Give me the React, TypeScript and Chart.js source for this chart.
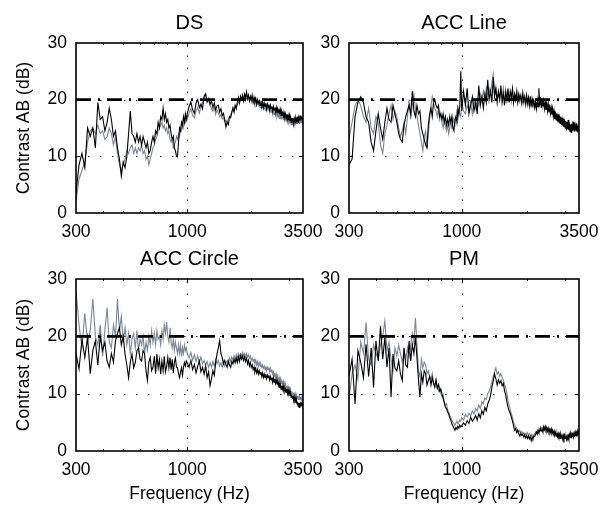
import React, { useEffect, useRef } from "react";
import { Chart, registerables } from "chart.js";

Chart.register(...registerables);

const FREQ = [
300,310,320,330,340,350,360,370,380,390,
400,410,420,430,440,450,460,470,480,490,
500,510,520,530,540,550,560,570,580,590,
600,610,620,630,640,650,660,670,680,690,
700,710,720,730,740,750,760,770,780,790,
800,810,820,830,840,850,860,870,880,890,
900,910,920,930,940,950,960,970,980,990,
1000,1020,1040,1060,1080,1100,1120,1140,1160,1180,
1200,1220,1240,1260,1280,1300,1320,1340,1360,1380,
1400,1420,1440,1460,1480,1500,1520,1540,1560,1580,
1600,1620,1640,1660,1680,1700,1720,1740,1760,1780,
1800,1820,1840,1860,1880,1900,1920,1940,1960,1980,
2000,2020,2040,2060,2080,2100,2120,2140,2160,2180,
2200,2220,2240,2260,2280,2300,2320,2340,2360,2380,
2400,2420,2440,2460,2480,2500,2520,2540,2560,2580,
2600,2620,2640,2660,2680,2700,2720,2740,2760,2780,
2800,2820,2840,2860,2880,2900,2920,2940,2960,2980,
3000,3020,3040,3060,3080,3100,3120,3140,3160,3180,
3200,3220,3240,3260,3280,3300,3320,3340,3360,3380,
3400,3420,3440,3460,3480,3500];

const X_TICKS = [300, 1000, 3500];
const X_MINOR = [400, 500, 600, 700, 800, 900, 2000, 3000];
const Y_TICKS = [0, 10, 20, 30];
const THRESHOLD = 20;
const TITLES = ["DS", "ACC Line", "ACC Circle", "PM"];
const X_LABEL = "Frequency (Hz)";
const Y_LABEL = "Contrast AB (dB)";

const DS_BLACK = [
3.5,8.5,10.5,8,15,13.5,15,11.5,19.5,16.5,
17,14.5,16,18.5,16.5,13.5,14.5,11.5,9.5,6.5,
9,8,10,14,18,14,13.5,12.5,14,12.5,
13.5,12,13.5,12.5,11.5,12.5,10.5,11,12.5,13.5,
12.5,14.5,14,16,15,17,16.5,18.5,16.5,17.5,
16,16.5,15,15.5,14,13,13.5,11.5,11,10,
9.9,12.5,15,14.5,16,15.5,17,16,17.5,16.5,
17.5,18.8,19.6,18.2,17.6,19.4,20,18.6,19.2,18.4,
20.6,21,19.6,20.2,19.2,19.8,18.6,19.4,18.2,18.9,
19,17.8,18.4,17.2,17.6,16.4,15.2,16,15.6,17,
16.8,17.8,18.6,17.8,19,18.4,19.6,20.4,19.4,20.6,
20,20.8,19.8,21,20.4,21.4,20.2,20.8,19.8,20.6,
20,20.8,19.6,20.4,19.6,20.2,19.2,20,19.4,19.8,
19,19.8,18.8,19.6,18.6,19.4,18.8,19.4,18.4,19.2,
18.6,19.2,18.2,19,18.4,18.8,18,18.8,18.2,18.6,
17.8,18.6,17.6,18.4,17.8,18.2,17.4,18.2,17.2,17.9,
17.4,17.8,16.8,17.6,17,17.5,16.6,17.4,16.6,17.2,
16.4,17.2,16.2,16.9,16,16.8,16.2,16.7,15.8,16.6,
16,16.8,15.8,16.6,16.2,17,16,16.8,16.4,17.2,
16.4,17.2,16.6,17,16.4,16.8];
const DS_GRAY = [
2,6,7.5,9,12.5,14.5,15,14,15.5,14,
14.5,13,13.5,15,14,12,13.5,10.5,8.5,7.5,
8.5,9.5,11,10.5,11.5,12,10.5,11.5,10.5,11.5,
11,12,10.5,11,9.5,10,8.5,9.5,10.5,11.5,
12,13,13.5,14.5,15,15.5,16,15,15.5,14.5,
15,14,14.5,13,12.5,13,11.5,12,12.5,13.5,
13,14,13.5,15,14.5,15.5,15,16.5,16,17,
16.5,17.6,18.4,17.2,16.8,18,18.6,17.6,18.8,19.6,
20.4,21,19.6,20,19,18.4,18,18.6,17.4,18.2,
17.6,17,17.4,16.6,16.8,16.2,16.4,16,16.6,17,
17.4,17.8,18.2,18,18.8,18.6,19.2,19.6,19.4,20,
20.2,20.6,20,20.4,19.8,20.6,20,20.4,19.8,20.2,
19.6,20.2,19.4,19.8,19.2,19.8,19,19.6,19,19.4,
18.6,19.2,18.4,19,18.4,18.8,18.2,18.8,18,18.6,
18.2,18.6,17.8,18.4,17.8,18.2,17.4,18,17.4,17.8,
17.2,17.8,17,17.6,17,17.4,16.6,17.2,16.6,17,
16.8,17.2,16.4,17,16.4,16.8,16.2,16.7,16,16.6,
16,16.4,15.8,16.4,15.6,16.2,15.6,16.1,15.4,16,
15.6,16.2,15.6,16.4,15.8,16.6,16,16.6,15.8,16.4,
16,16.6,16,16.4,15.8,16.2];
const ACCL_BLACK = [
8.5,9.5,17,19.5,20.5,19.5,17,16,12.5,11,
14.5,17.5,15,13,16,18.5,16.5,16,19,17.5,
16,14,13,12.5,15.5,17,18,19,17.5,21.5,
18,17,19,17.5,18,15,14,13,12,11.5,
15.5,17.5,18.5,17,19.5,20,19,18.5,19,17,
17.5,16.5,17.5,16,17,15.5,16.5,15.5,17,16,
17,15,14.5,16.5,17,16,18.5,17.5,19,25,
18,21.5,19,22,17.5,19,20.5,18,19.5,17.5,
22.5,19,20.5,18.5,21,19.5,23.5,20,21.5,19.5,
24,20.5,22,19.5,21.5,20,22.5,19.5,21,19,
21.5,20,22,19.5,21.5,20.5,22,19.5,21,20,
21.5,19.5,21,20,20.8,19.4,21.2,19.8,20.6,19.2,
20.8,19.4,20.4,19,20.6,18.8,20.2,19.2,19.8,18.6,
19.6,18.4,20,18.8,22,19,20.4,18.6,19.8,18.8,
19.8,18.4,19.6,18.2,19.4,18,19.2,17.8,19,17.6,
18.6,17.4,18.4,17,18,16.6,17.8,16.4,17.6,16.2,
17.4,16,17.2,15.8,17,15.6,16.8,15.4,16.6,15.2,
16.4,15,16.2,14.6,16,14.8,16.4,14.6,15.8,14.4,
15.6,14.2,15.8,14.6,16.2,14.8,16,14.4,15.6,14.6,
15.8,14.4,15.4,14.2,15,14.6];
const ACCL_GRAY = [
13,16,19,20,19,17,16,18.5,15,14,
17,16,12,10.5,14,15.5,17.5,19,16.5,18,
17,15,13.5,14.5,16,14,17,20,16.5,19,
21,18.5,17,15.5,14,12.5,11,13.5,14.5,11.5,
14,16.5,19,20.5,19.5,18.5,18,17,18.5,16.5,
17.5,16,15,16.5,15.5,14.5,15.5,14,15,16,
15,17,16,15.5,17,18,16.5,18,17.5,17,
19.5,18,17.5,19,18,19.5,17.5,20,18.5,20,
19,21,20,21.5,20,22,20.5,22,21,23,
24.5,21.5,22,20.5,21,20,21.5,20.5,22,20,
21,19.8,21.2,20,21,19.6,20.8,20,21,19.8,
20.6,19.6,20.8,19.6,20.4,19.4,20.2,19.2,20,19.4,
20.2,19,20,18.8,19.8,18.8,19.6,18.6,19.4,18.6,
19.4,18.4,19.2,18.6,20.4,19.2,20,19,19.6,18.8,
19.4,18.6,19.2,18.2,19,18,18.8,17.8,18.6,17.6,
18.4,17.4,18.2,17.2,17.8,16.8,17.6,16.6,17.4,16.4,
17.2,16.2,17,16,16.8,15.8,16.6,15.6,16.4,15.4,
16.2,15.2,16,15,15.8,14.8,15.8,14.8,15.6,14.6,
15.6,14.6,15.4,14.6,15.6,14.4,15.4,14.6,15.4,14.4,
15.4,14.6,15.2,14.4,15,14.6];
const ACCC_BLACK = [
17,14.3,19.5,16.3,19.8,13.5,17.5,19.2,15,20,
17.5,19,15.7,14.6,17,15.5,19.2,20.5,21.5,18.5,
20,16.9,15,12.8,15.5,16.9,14.5,15.4,17.5,18,
16,15.7,17.5,17,14,12.3,15.5,16.3,14,14.6,
16.5,13.5,16.9,14.5,16,13.4,15.7,14,16.5,13.8,
14.7,16.3,14.5,16.3,14.2,16,13.6,15.5,16.2,14.6,
14.5,13.5,12.8,13.8,14.5,13.2,14.6,15.4,14.8,15.7,
15.4,14.6,15.8,14.2,15.1,13.6,14.8,15.7,13.8,14.6,
13.4,14.8,12.8,13.8,11.4,12.6,14,13.2,15.4,16.9,
18,19.2,17,16.3,15.2,15.8,15.1,14.6,15.7,15,
14.6,15.6,15.2,16,15.4,16.2,15.4,16.4,15.6,16.6,
16,16.6,15.8,16.4,15.6,16.2,15.2,15.8,14.8,15.4,
14.6,15,14.2,14.6,13.8,14.4,13.6,14.2,13.4,14,
13.4,13.8,13,13.6,12.8,13.4,12.8,13.4,12.6,13.2,
12.8,13.2,12.4,13,12.4,12.8,12,12.8,12,12.6,
11.8,12.4,11.6,12.2,11.4,11.9,11,11.6,10.8,11.4,
10.8,11.4,10.6,11,10.4,10.8,10.2,10.8,10,10.6,
10,10.4,9.6,10.2,9.4,9.8,9.2,9.6,8.8,9.4,
8.8,9.2,8.4,9,8.2,8.6,7.8,8.4,7.6,8.4,
7.8,8.6,8,8.4,7.8,8.4];
const ACCC_GRAY = [
28,22,18,24,19,21,26.5,20,18.5,22,
16.5,21,25,19,18,22,20,26.5,21,23.5,
19,21.5,18.5,20.5,17,19.5,20.5,18,21,17.5,
19.5,18.5,20,17,19,17.5,20,18.5,21,19,
20.5,18.5,21,19.5,20,18.5,21,19.5,22,20.5,
22.5,20,19,21.5,19,18,19.5,17.5,19,18,
17,18.5,17,18.5,16.5,18,17,18.5,17.5,18,
17,16.2,17.2,15.8,16.8,15.6,16.6,15.4,16.4,15.2,
15.8,15,15.6,14.6,15.4,14.6,15.6,14.8,16,15.2,
15.8,14.8,15.4,14.6,15.6,14.8,15.4,15.8,15.2,16.2,
15.6,16.4,15.8,16.6,16,16.8,16.2,17,16.4,17,
16.6,17.2,16.6,17,16.4,17,16.4,16.8,16.2,16.6,
15.8,16.2,15.6,16,15.2,15.8,15,15.6,14.8,15.4,
14.8,15.2,14.6,15,14.4,14.8,14.2,14.8,14,14.6,
14.2,14.6,13.8,14.4,13.8,14.2,13.4,13.8,13,13.6,
12.8,13.4,12.6,13,12.2,12.8,12,12.6,11.8,12.2,
11.8,12.2,11.4,11.8,11,11.6,10.8,11.4,10.6,11.2,
10.6,11,10.2,10.8,10,10.4,9.8,10.2,9.6,10,
9.6,10,9.4,9.8,9.2,9.6,9,9.6,9,9.4,
9,9.4,8.8,9.4,9,9.2];
const PM_BLACK = [
13,16,8.2,17.5,15.5,12.8,18.6,13,18,11.1,
19.2,15.7,21.8,16,19.8,14.6,18,9.4,16.9,14.5,
14,15.7,13.4,12.3,18,15,14.6,19.2,15.7,18.6,
17,19.8,16.3,12.5,9.4,13.4,12,14,13.5,11.5,
12.3,13,11.5,12.8,11.8,11.1,12.4,11,11.6,10.4,
10.8,9.9,9.2,8.4,7.6,7.4,6.8,6.5,5.8,5.4,
4.7,4.4,4,3.6,4.1,3.8,4.3,4,4.5,4.2,
4.4,4.9,4.5,5.3,4.8,5.9,5.2,5.6,6.2,5.4,
6.5,5.8,7,6.4,7.6,7,8.2,8.8,9.6,11.1,
12.2,13.4,12.6,11.5,12.4,11.8,12.3,11.4,11.8,10.5,
9.8,8.6,7.6,7,6.5,5.9,5.2,4.4,3.6,3.9,
3.2,3.6,3,2.6,3.1,2.7,2.9,2.4,2.8,2.3,
2.7,2.2,2.6,2.1,2.5,1.8,2.4,2.1,2.6,2.5,
2.9,3.3,2.9,3.6,3.2,3.4,3.9,3.5,3.7,3.3,
4.1,3.7,4.2,3.6,4,3.4,3.9,3.3,3.7,3.2,
3.8,3.1,3.5,2.9,3.4,2.8,3.2,2.6,3.1,2.5,
3,2.5,2.9,2.2,2.8,2.3,2.6,2.1,2.7,2.2,
2.7,2.2,2.6,2,2.5,1.9,2.6,2.1,2.8,2.4,
2.8,2.3,3.2,2.6,3.1,2.4,3,2.5,3.2,2.6,
3.1,2.6,3.4,2.8,3.3,2.9];
const PM_GRAY = [
9,13.5,15,12.5,19,17,22.4,16,15,18.5,
17,16,18.5,20,22.7,17.5,19,16,14,18,
16.5,18.5,17,15.5,17.5,16,18,16.5,18.5,20.5,
19,23.2,18.5,14,13,16,14.5,15.5,15,13.5,
14,13,12.5,13.5,12,11.5,12.4,11,10.5,11.2,
10,9.5,9.8,8.6,8,8.3,7.2,6.8,6.2,5.8,
5.4,5,4.8,4.5,4.9,5.2,4.7,5,5.4,5.2,
5.8,5.4,6.4,5.9,6.6,6.1,7,6.5,7.4,7,
8,7.4,8.6,8.2,9.2,9,10,10.4,11.2,12,
13,13.8,14.5,13.4,13.8,13,13.5,12.8,12.4,11.6,
11,10,8.8,8,7.2,6.5,5.8,5,4.6,4.2,
4,3.6,3.3,3.6,3.2,3.4,3,3.2,2.8,3.1,
2.9,3.2,2.7,3,2.6,2.9,2.5,2.8,2.7,3,
3.3,3.1,3.6,3.4,3.9,3.7,4.2,3.9,4.1,3.8,
4.4,4,4.4,3.9,4.2,3.7,4.1,3.6,3.9,3.5,
3.9,3.4,3.7,3.2,3.6,3.1,3.4,3,3.3,2.8,
3.2,2.8,3.1,2.6,3,2.6,2.9,2.5,2.8,2.4,
2.9,2.5,2.8,2.4,2.7,2.3,2.8,2.5,3,2.6,
3.1,2.7,3.3,2.8,3.2,2.7,3.2,2.8,3.3,2.8,
3.3,2.9,3.2,2.9,3.1,2.9];

const W = 608;
const H = 506;
const GRAY = "#7b8794";
const FONT = '"Liberation Sans", Arial, Helvetica, sans-serif';

type Panel = {
  title: string;
  black: number[];
  gray: number[];
  rect: [number, number, number, number];
  yLabel: boolean;
  xLabel: boolean;
};

const PANELS: Panel[] = [
  { title: TITLES[0], black: DS_BLACK, gray: DS_GRAY, rect: [76, 43, 303, 213], yLabel: true, xLabel: false },
  { title: TITLES[1], black: ACCL_BLACK, gray: ACCL_GRAY, rect: [349, 43, 579, 213], yLabel: false, xLabel: false },
  { title: TITLES[2], black: ACCC_BLACK, gray: ACCC_GRAY, rect: [76, 279, 303, 451], yLabel: true, xLabel: true },
  { title: TITLES[3], black: PM_BLACK, gray: PM_GRAY, rect: [349, 279, 579, 451], yLabel: false, xLabel: true },
];

function makePlugin(p: Panel) {
  return {
    id: "matlabFrame",
    beforeDatasetsDraw(chart: any) {
      const { ctx, chartArea, scales } = chart;
      const { left, top, right, bottom } = chartArea;
      const x = scales.x;
      const y = scales.y;
      ctx.save();
      ctx.strokeStyle = "#222";
      ctx.lineWidth = 1.2;
      ctx.setLineDash([1.5, 10.5]);
      for (const v of X_TICKS.slice(1, -1)) {
        const px = Math.round(x.getPixelForValue(v)) + 0.5;
        ctx.beginPath();
        ctx.moveTo(px, bottom);
        ctx.lineTo(px, top);
        ctx.stroke();
      }
      for (const v of Y_TICKS.slice(1, -1)) {
        const py = Math.round(y.getPixelForValue(v)) + 0.5;
        ctx.beginPath();
        ctx.moveTo(left, py);
        ctx.lineTo(right, py);
        ctx.stroke();
      }
      ctx.restore();
    },
    afterDraw(chart: any) {
      const { ctx, chartArea, scales } = chart;
      const { left, top, right, bottom } = chartArea;
      const x = scales.x;
      const y = scales.y;
      ctx.save();
      ctx.setLineDash([]);
      ctx.strokeStyle = "#000";
      ctx.lineWidth = 1;
      for (const v of X_TICKS.slice(1, -1)) {
        const px = Math.round(x.getPixelForValue(v)) + 0.5;
        ctx.beginPath();
        ctx.moveTo(px, bottom); ctx.lineTo(px, bottom - 4);
        ctx.moveTo(px, top); ctx.lineTo(px, top + 4);
        ctx.stroke();
      }
      for (const v of X_MINOR) {
        const px = Math.round(x.getPixelForValue(v)) + 0.5;
        ctx.beginPath();
        ctx.moveTo(px, bottom); ctx.lineTo(px, bottom - 2);
        ctx.moveTo(px, top); ctx.lineTo(px, top + 2);
        ctx.stroke();
      }
      for (const v of Y_TICKS.slice(1, -1)) {
        const py = Math.round(y.getPixelForValue(v)) + 0.5;
        ctx.beginPath();
        ctx.moveTo(left, py); ctx.lineTo(left + 4, py);
        ctx.moveTo(right, py); ctx.lineTo(right - 4, py);
        ctx.stroke();
      }
      ctx.lineWidth = 1.6;
      ctx.strokeRect(left, top, right - left, bottom - top);
      ctx.fillStyle = "#000";
      ctx.font = `17.5px ${FONT}`;
      ctx.textAlign = "right";
      ctx.textBaseline = "middle";
      for (const v of Y_TICKS) {
        ctx.fillText(String(v), left - 9, y.getPixelForValue(v));
      }
      ctx.textAlign = "center";
      ctx.textBaseline = "alphabetic";
      for (const v of X_TICKS) {
        ctx.fillText(String(v), x.getPixelForValue(v), bottom + 24);
      }
      ctx.font = `20px ${FONT}`;
      ctx.fillText(p.title, (left + right) / 2, top - 14.5);
      ctx.font = `17.5px ${FONT}`;
      if (p.xLabel) {
        ctx.fillText(X_LABEL, (left + right) / 2, bottom + 48);
      }
      if (p.yLabel) {
        ctx.save();
        ctx.translate(24, (top + bottom) / 2);
        ctx.rotate(-Math.PI / 2);
        ctx.textBaseline = "middle";
        ctx.fillText(Y_LABEL, 0, 0);
        ctx.restore();
      }
      ctx.restore();
    },
  };
}

function Plot({ p }: { p: Panel }) {
  const ref = useRef<HTMLCanvasElement>(null);
  useEffect(() => {
    const [l, t, r, b] = p.rect;
    const chart = new Chart(ref.current as HTMLCanvasElement, {
      type: "line",
      data: {
        datasets: [
          {
            data: [
              { x: X_TICKS[0], y: THRESHOLD },
              { x: X_TICKS[X_TICKS.length - 1], y: THRESHOLD },
            ],
            borderColor: "#000",
            borderWidth: 2.6,
            borderDash: [15, 7, 2, 7],
            pointRadius: 0,
          },
          {
            data: FREQ.map((f, i) => ({ x: f, y: p.black[i] })),
            borderColor: "#000",
            borderWidth: 1.1,
            pointRadius: 0,
          },
          {
            data: FREQ.map((f, i) => ({ x: f, y: p.gray[i] })),
            borderColor: GRAY,
            borderWidth: 1.1,
            pointRadius: 0,
          },
        ],
      },
      options: {
        responsive: false,
        animation: false,
        devicePixelRatio: 1,
        events: [],
        layout: { padding: { left: l, top: t, right: W - r, bottom: H - b } },
        plugins: { legend: { display: false }, tooltip: { enabled: false }, title: { display: false } },
        scales: {
          x: { type: "logarithmic", min: X_TICKS[0], max: X_TICKS[X_TICKS.length - 1], display: false },
          y: { type: "linear", min: Y_TICKS[0], max: Y_TICKS[Y_TICKS.length - 1], display: false },
        },
      } as any,
      plugins: [makePlugin(p)],
    });
    return () => chart.destroy();
  }, [p]);
  return (
    <canvas
      ref={ref}
      width={W}
      height={H}
      style={{ position: "absolute", left: 0, top: 0, width: W, height: H }}
    />
  );
}

export default function App() {
  return (
    <div style={{ position: "absolute", left: 0, top: 0, width: W, height: H, background: "#fff", overflow: "hidden" }}>
      {PANELS.map((p) => (
        <Plot key={p.title} p={p} />
      ))}
    </div>
  );
}
